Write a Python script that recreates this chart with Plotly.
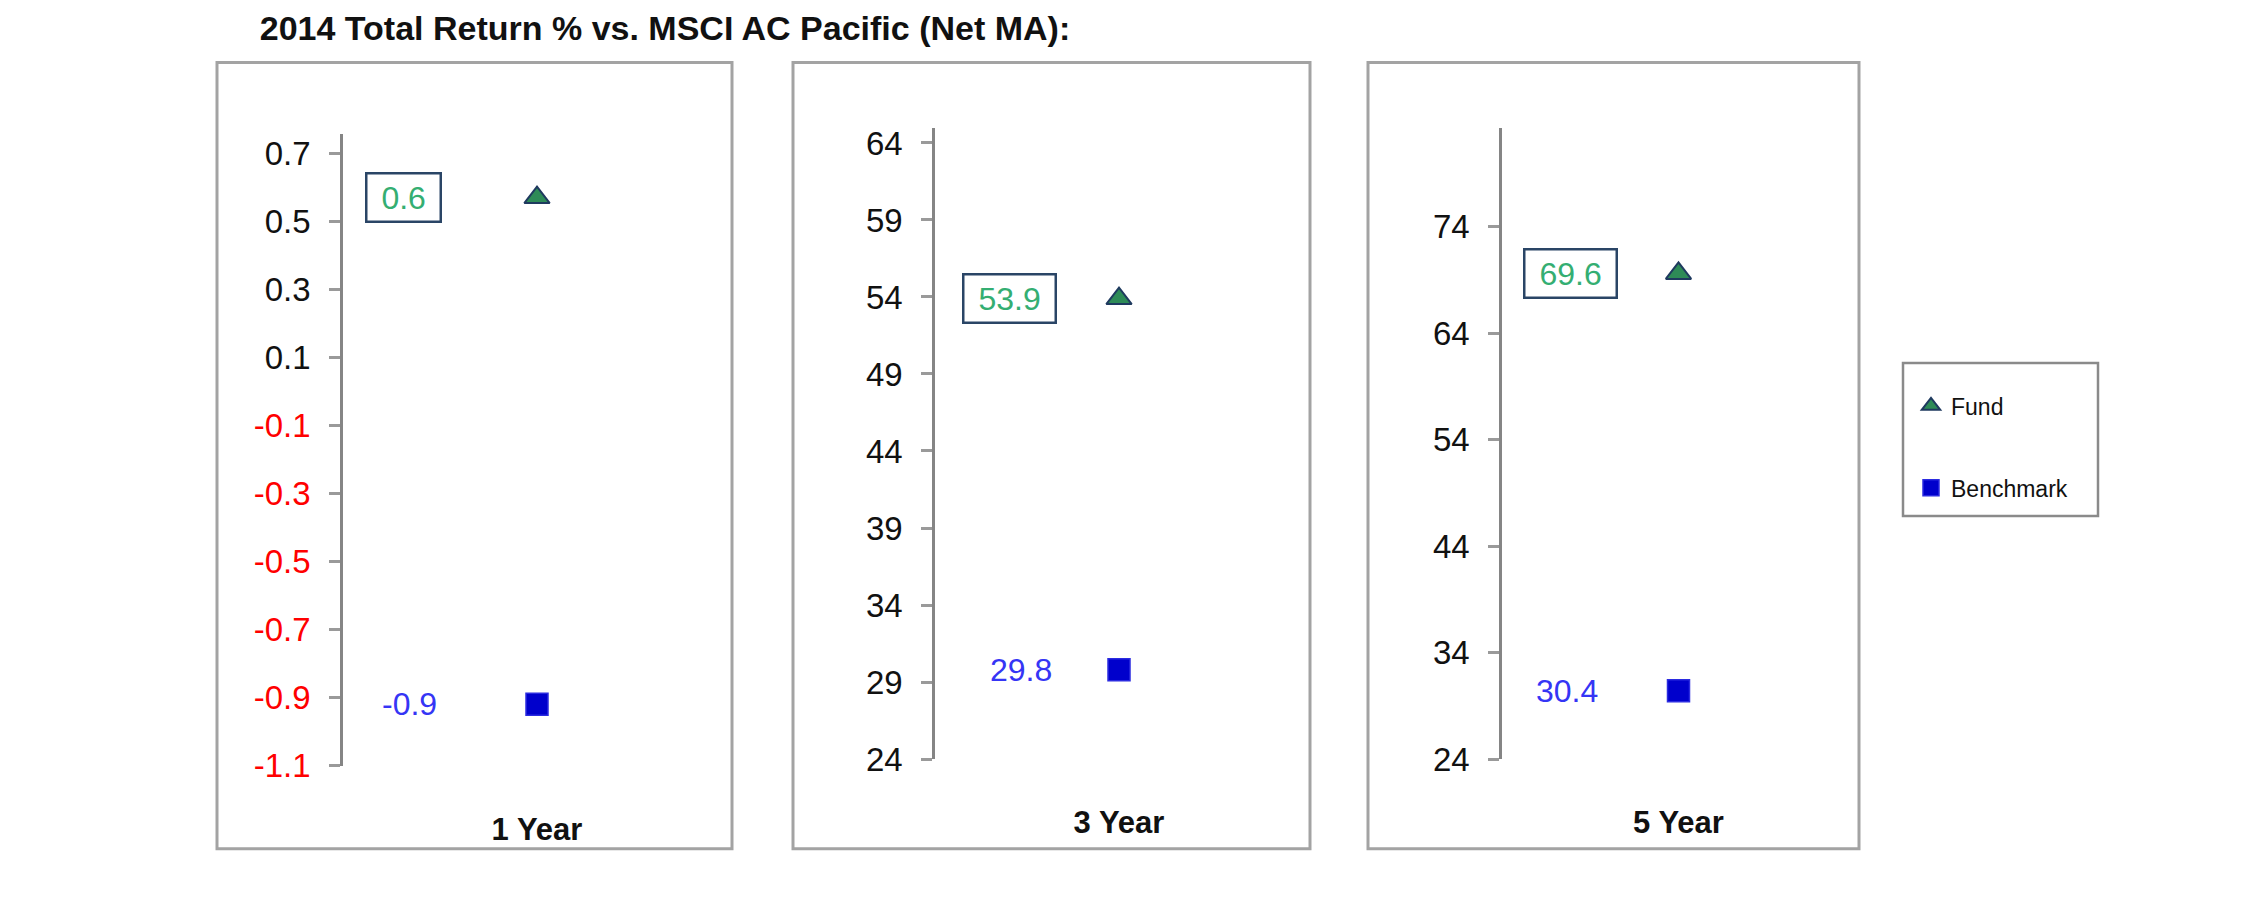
import plotly.graph_objects as go

# ---------------- data ----------------
categories = ["1 Year", "3 Year", "5 Year"]
fund_values = [0.57, 53.9, 69.6]
benchmark_values = [-0.92, 29.8, 30.4]

y1_ticks = [0.7, 0.5, 0.3, 0.1, -0.1, -0.3, -0.5, -0.7, -0.9, -1.1]
y2_ticks = [64, 59, 54, 49, 44, 39, 34, 29, 24]
y3_ticks = [74, 64, 54, 44, 34, 24]

title_text = "2014 Total Return % vs. MSCI AC Pacific (Net MA):"
series_names = ["Fund", "Benchmark"]

# ---------------- style ----------------
W, H = 2251, 898
SANS = "Liberation Sans, Arial, sans-serif"
FUND_FILL = "#2E8B57"
FUND_LINE = "#1F3A5F"
BENCH_FILL = "#0000CC"
BENCH_LINE = "#2B2BE0"
FUND_LABEL = "#34AE72"
BENCH_LABEL = "#3535F5"
AXIS_GRAY = "#858585"


def px(x):
    return x / W


def py(y):
    return 1 - y / H


# plot areas (pixel positions of the value axis and right edge)
x_domains = [(343, 731), (935, 1303), (1502, 1855)]
y_domains = [(134.3, 781.7), (127.7, 775), (127.7, 775)]
y_ranges = [[-1.1, 0.757], [24, 65], [24, 83.3]]
tick_sets = [y1_ticks, y2_ticks, y3_ticks]


def fmt_tick(v, decimals):
    s = f"{v:.{decimals}f}"
    if v < 0:
        return f'<span style="color:#FF0000">{s}</span>'
    return s


fig = go.Figure()

for i, cat in enumerate(categories):
    xa = "x" if i == 0 else f"x{i+1}"
    ya = "y" if i == 0 else f"y{i+1}"
    fig.add_trace(go.Scatter(
        x=[cat], y=[fund_values[i]], xaxis=xa, yaxis=ya,
        mode="markers", name=series_names[0], legendgroup="fund",
        showlegend=(i == 0),
        marker=dict(symbol="triangle-up", size=22, color=FUND_FILL,
                    line=dict(color=FUND_LINE, width=2)),
    ))
    fig.add_trace(go.Scatter(
        x=[cat], y=[benchmark_values[i]], xaxis=xa, yaxis=ya,
        mode="markers", name=series_names[1], legendgroup="bench",
        showlegend=(i == 0),
        marker=dict(symbol="square", size=22, color=BENCH_FILL,
                    line=dict(color=BENCH_LINE, width=1.5)),
    ))

layout = dict(
    width=W, height=H,
    margin=dict(l=0, r=0, t=0, b=0),
    paper_bgcolor="white", plot_bgcolor="white",
    showlegend=True,
    legend=dict(
        x=px(1911), y=py(391), xanchor="left", yanchor="top",
        font=dict(family=SANS, size=23, color="#111111"),
        bgcolor="rgba(0,0,0,0)", borderwidth=0,
        tracegroupgap=49, itemwidth=30,
    ),
    title=dict(
        text=title_text, x=px(665), y=py(28.5), xanchor="center", yanchor="middle",
        font=dict(family=SANS, size=34, color="#111111", weight="bold"),
    ),
)

decimals = [1, 0, 0]
label_offsets_fund = [-133.5, -109.6, -108.3]
label_offsets_bench = [-127.5, -98.5, -111.6]

annotations = []
for i in range(3):
    xk = "xaxis" if i == 0 else f"xaxis{i+1}"
    yk = "yaxis" if i == 0 else f"yaxis{i+1}"
    ya_name = "y" if i == 0 else f"y{i+1}"
    xa_name = "x" if i == 0 else f"x{i+1}"
    layout[xk] = dict(
        domain=[px(x_domains[i][0]), px(x_domains[i][1])],
        anchor=ya_name, type="category", range=[-0.5, 0.5],
        showline=False, showgrid=False, zeroline=False, ticks="",
        tickfont=dict(family=SANS, size=31, color="#111111", weight="bold"),
        ticklabelstandoff=42, fixedrange=True,
    )
    layout[yk] = dict(
        domain=[py(y_domains[i][1]), py(y_domains[i][0])],
        anchor=xa_name, range=y_ranges[i],
        tickvals=tick_sets[i],
        ticktext=[fmt_tick(v, decimals[i]) for v in tick_sets[i]],
        showline=True, linecolor=AXIS_GRAY, linewidth=2.5,
        ticks="outside", ticklen=11, tickwidth=2.5, tickcolor="#9A9A9A",
        showgrid=False, zeroline=False,
        tickfont=dict(family=SANS, size=33, color="#111111"),
        ticklabelstandoff=12, fixedrange=True,
    )
    # fund label (boxed)
    annotations.append(dict(
        xref=xa_name, yref=ya_name, x=categories[i], y=fund_values[i],
        xshift=label_offsets_fund[i],
        text="&nbsp;" + f"{fund_values[i]:.1f}" + "&nbsp;",
        showarrow=False, font=dict(family=SANS, size=32, color=FUND_LABEL),
        bordercolor="#2A4566", borderwidth=2.5, borderpad=5, bgcolor="white",
    ))
    # benchmark label
    annotations.append(dict(
        xref=xa_name, yref=ya_name, x=categories[i], y=benchmark_values[i],
        xshift=label_offsets_bench[i],
        text=f"{benchmark_values[i]:.1f}",
        showarrow=False, font=dict(family=SANS, size=32, color=BENCH_LABEL),
    ))

layout["annotations"] = annotations

# panel frames and legend frame
panels = [(217, 732), (793, 1310), (1368, 1859)]
shapes = []
for (x0, x1) in panels:
    shapes.append(dict(type="rect", xref="paper", yref="paper",
                       x0=px(x0), x1=px(x1), y0=py(867), y1=py(61),
                       line=dict(color="#A3A3A3", width=3), layer="below"))
shapes.append(dict(type="rect", xref="paper", yref="paper",
                   x0=px(1903), x1=px(2098), y0=py(526), y1=py(369),
                   line=dict(color="#8A8A8A", width=2.5), layer="below"))
layout["shapes"] = shapes

fig.update_layout(**layout)
fig.write_html("out.html")
